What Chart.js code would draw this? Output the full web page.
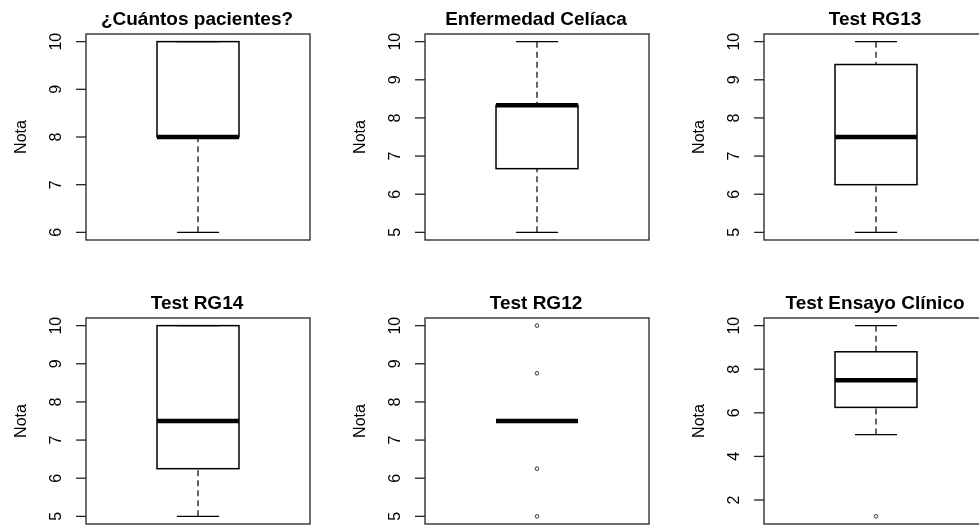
<!DOCTYPE html>
<html>
<head>
<meta charset="utf-8">
<script src="https://cdn.jsdelivr.net/npm/chart.js@4"></script>
<style>
    html, body { margin: 0; padding: 0; background: #fff; }
    #page { position: relative; width: 979px; height: 525px; overflow: hidden; background: #fff; }
    #page canvas { position: absolute; }
</style>
</head>
<body>
<div id="page"></div>
<script>
// one entry per panel, R boxplot stats
const titles = ['¿Cuántos pacientes?', 'Enfermedad Celíaca', 'Test RG13', 'Test RG14', 'Test RG12', 'Test Ensayo Clínico'];
const lowWhisker = [6, 5, 5, 5, 7.5, 5];
const q1 = [8, 6.67, 6.25, 6.25, 7.5, 6.25];
const median = [8, 8.33, 7.5, 7.5, 7.5, 7.5];
const q3 = [10, 8.33, 9.4, 10, 7.5, 8.8];
const highWhisker = [10, 10, 10, 10, 7.5, 10];
const outliers = [[], [], [], [], [10, 8.75, 6.25, 5], [1.25]];
const yTicks = [
    [6, 7, 8, 9, 10],
    [5, 6, 7, 8, 9, 10],
    [5, 6, 7, 8, 9, 10],
    [5, 6, 7, 8, 9, 10],
    [5, 6, 7, 8, 9, 10],
    [2, 4, 6, 8, 10]
];
const yMin = [5.84, 4.8, 4.8, 4.8, 4.8, 0.9];
const yMax = [10.16, 10.2, 10.2, 10.2, 10.2, 10.35];
const yLabel = 'Nota';

const cellW = 339, cellH = 284;
const pad = { left: 86, top: 34, right: 29, bottom: 44 };
const font = '"Liberation Sans", Arial, sans-serif';

const boxPlugin = {
    id: 'boxDraw',
    beforeDatasetsDraw(chart, args, opts) {
        const i = opts.index;
        const ctx = chart.ctx;
        const xs = chart.scales.x, ys = chart.scales.y;
        const cx = xs.getPixelForValue(0.5);
        const bl = xs.getPixelForValue(0.5 - 0.183), br = xs.getPixelForValue(0.5 + 0.183);
        const cl = xs.getPixelForValue(0.5 - 0.094), cr = xs.getPixelForValue(0.5 + 0.094);
        const y = v => ys.getPixelForValue(v);
        ctx.save();
        ctx.strokeStyle = '#000';
        // whiskers
        ctx.lineWidth = 1.2;
        ctx.setLineDash([6, 4]);
        ctx.beginPath();
        ctx.moveTo(cx, y(lowWhisker[i])); ctx.lineTo(cx, y(q1[i]));
        ctx.moveTo(cx, y(highWhisker[i])); ctx.lineTo(cx, y(q3[i]));
        ctx.stroke();
        ctx.setLineDash([]);
        // caps
        ctx.beginPath();
        ctx.moveTo(cl, y(lowWhisker[i])); ctx.lineTo(cr, y(lowWhisker[i]));
        ctx.moveTo(cl, y(highWhisker[i])); ctx.lineTo(cr, y(highWhisker[i]));
        ctx.stroke();
        // box
        ctx.lineWidth = 1.5;
        if (q3[i] > q1[i]) {
            ctx.strokeRect(bl, y(q3[i]), br - bl, y(q1[i]) - y(q3[i]));
        }
        // median
        ctx.lineWidth = 4.5;
        ctx.beginPath();
        ctx.moveTo(bl, y(median[i])); ctx.lineTo(br, y(median[i]));
        ctx.stroke();
        ctx.restore();
    },
    afterDraw(chart, args, opts) {
        const i = opts.index;
        const ctx = chart.ctx;
        const a = chart.chartArea;
        const ys = chart.scales.y;
        ctx.save();
        ctx.strokeStyle = '#222';
        ctx.lineWidth = 1.3;
        ctx.strokeRect(a.left, a.top, a.right - a.left, a.bottom - a.top);
        // y ticks
        ctx.fillStyle = '#000';
        ctx.font = '16px ' + font;
        ctx.textAlign = 'center';
        ctx.textBaseline = 'middle';
        yTicks[i].forEach(t => {
            const py = ys.getPixelForValue(t);
            ctx.beginPath();
            ctx.moveTo(a.left - 10, py); ctx.lineTo(a.left, py);
            ctx.stroke();
            ctx.save();
            ctx.translate(a.left - 29, py);
            ctx.rotate(-Math.PI / 2);
            ctx.fillText(String(t), 0, 0);
            ctx.restore();
        });
        // y title
        ctx.font = '16px ' + font;
        ctx.save();
        ctx.translate(a.left - 64, (a.top + a.bottom) / 2);
        ctx.rotate(-Math.PI / 2);
        ctx.fillText(yLabel, 0, 0);
        ctx.restore();
        // main title
        ctx.font = 'bold 19px ' + font;
        ctx.textBaseline = 'alphabetic';
        ctx.fillText(titles[i], (a.left + a.right) / 2 - 1, a.top - 9);
        ctx.restore();
    }
};

const page = document.getElementById('page');
titles.forEach((title, i) => {
    const canvas = document.createElement('canvas');
    canvas.width = cellW;
    canvas.height = cellH;
    canvas.style.left = (i % 3) * cellW + 'px';
    canvas.style.top = Math.floor(i / 3) * cellH + 'px';
    page.appendChild(canvas);
    new Chart(canvas.getContext('2d'), {
        type: 'scatter',
        data: {
            datasets: [{
                data: outliers[i].map(v => ({ x: 0.5, y: v })),
                pointRadius: 1.8,
                pointBackgroundColor: '#fff',
                pointBorderColor: '#333',
                pointBorderWidth: 1
            }]
        },
        options: {
            responsive: false,
            animation: false,
            layout: { padding: pad },
            scales: {
                x: { type: 'linear', min: 0, max: 1, display: false },
                y: { type: 'linear', min: yMin[i], max: yMax[i], display: false }
            },
            plugins: {
                legend: { display: false },
                tooltip: { enabled: false },
                boxDraw: { index: i }
            }
        },
        plugins: [boxPlugin]
    });
});
</script>
</body>
</html>
